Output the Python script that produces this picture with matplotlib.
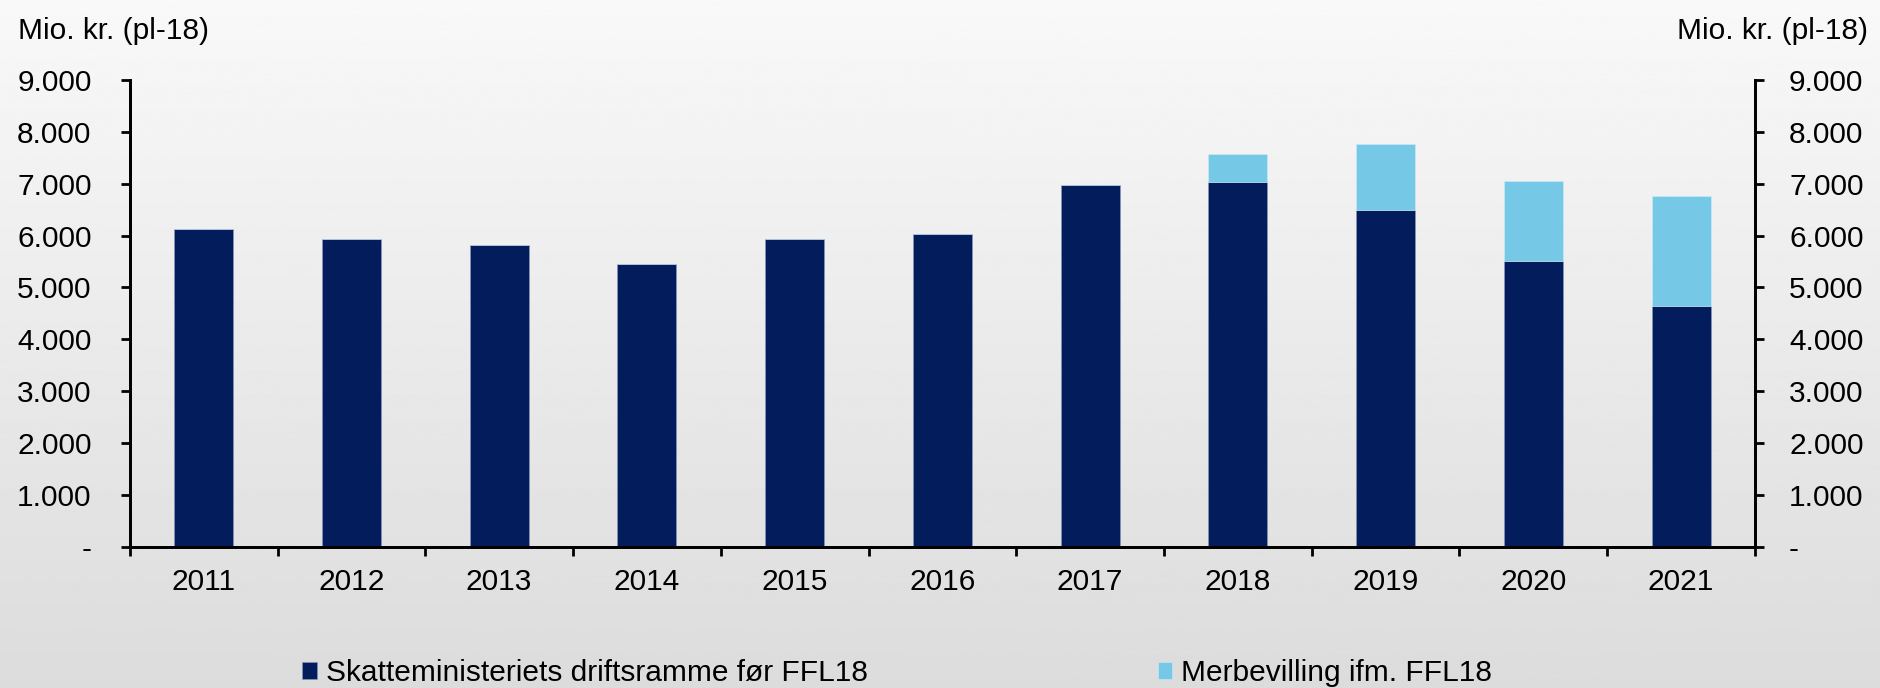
import numpy as np
from matplotlib import pyplot as plt
from matplotlib.ticker import FuncFormatter

plt.rcParams['font.family'] = ['Liberation Sans', 'DejaVu Sans']

years = ['2011', '2012', '2013', '2014', '2015', '2016', '2017', '2018', '2019', '2020', '2021']
drift = [6130, 5930, 5820, 5460, 5940, 6020, 6975, 7030, 6490, 5500, 4640]
merbev = [0, 0, 0, 0, 0, 0, 0, 545, 1265, 1560, 2130]

navy = '#031c5b'
light = '#75c9e6'
fs = 21.5


def fmt(v, pos):
    if v == 0:
        return '-'
    return '{:,.0f}'.format(v).replace(',', '.')


f1 = plt.figure(figsize=(18.81, 6.88), dpi=100)

# gradient background
bg = f1.add_axes([0, 0, 1, 1], zorder=-10)
grad = np.linspace(0.975, 0.862, 256).reshape(-1, 1)
bg.imshow(grad, cmap='gray', vmin=0, vmax=1, aspect='auto', extent=(0, 1, 0, 1))
bg.set_axis_off()

ax = f1.add_axes([0.069, 0.205, 0.864, 0.679])
ax.patch.set_alpha(0)
x = np.arange(len(years))
b1 = ax.bar(x, drift, width=0.4, color=navy, edgecolor='#8a9bc0', linewidth=0.4)
b2 = ax.bar(x, merbev, width=0.4, bottom=drift, color=light, edgecolor='#cfeaf5', linewidth=0.4)

ax.set_xlim(-0.5, len(years) - 0.5)
ax.set_ylim(0, 9000)
ax.set_yticks(range(0, 9001, 1000))
ax.yaxis.set_major_formatter(FuncFormatter(fmt))
ax.set_xticks(x)
ax.set_xticklabels(years)
ax.set_xticks(np.arange(-0.5, len(years), 1), minor=True)
ax.tick_params(axis='x', which='major', length=0, pad=15, labelsize=fs)
ax.tick_params(axis='x', which='minor', length=6.5, width=2, direction='out')
ax.tick_params(axis='y', length=6.5, width=2, pad=21, labelsize=fs, direction='out')

for s in ('left', 'right', 'bottom'):
    ax.spines[s].set_linewidth(2)
ax.spines['top'].set_visible(False)

ax2 = ax.twinx()
ax2.set_ylim(0, 9000)
ax2.set_yticks(range(0, 9001, 1000))
ax2.yaxis.set_major_formatter(FuncFormatter(fmt))
ax2.tick_params(axis='y', length=6.5, width=2, pad=18, labelsize=fs, direction='out')
for s in ('left', 'right', 'bottom'):
    ax2.spines[s].set_linewidth(2)
ax2.spines['top'].set_visible(False)

f1.text(0.0095, 0.955, 'Mio. kr. (pl-18)', fontsize=fs, ha='left', va='center')
f1.text(0.993, 0.955, 'Mio. kr. (pl-18)', fontsize=fs, ha='right', va='center')

f1.legend((b1, b2), ('Skatteministeriets driftsramme før FFL18', 'Merbevilling ifm. FFL18'),
          loc='center', bbox_to_anchor=(0.477, 0.022), ncol=2, frameon=False,
          fontsize=fs, handlelength=0.5, handleheight=0.5, handletextpad=0.3,
          columnspacing=9.7)

f1.savefig('out.png', dpi=100)
